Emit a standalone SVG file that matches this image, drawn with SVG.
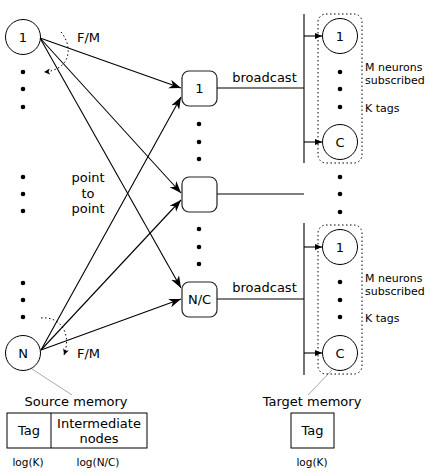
<svg xmlns="http://www.w3.org/2000/svg" width="439" height="474" viewBox="0 0 439 474">
<style>
  text { font-family: "DejaVu Sans", "Liberation Sans", sans-serif; fill: #000; }
  .lbl { font-size: 13px; text-anchor: middle; }
  .sm { font-size: 11px; }
  .lg { font-size: 10.5px; text-anchor: middle; }
  .node { fill: #fff; stroke: #000; stroke-width: 1; }
  .box { fill: #fff; stroke: #222; stroke-width: 1.2; }
  .edge { stroke: #000; stroke-width: 1.1; fill: none; }
  .dotarc { stroke: #000; stroke-width: 1; fill: none; stroke-dasharray: 1.5 2.5; }
  .group { stroke: #000; stroke-width: 1; fill: none; stroke-dasharray: 1.5 2.5; }
  .lead { stroke: #aaa; stroke-width: 1; fill: none; }
  .dot { fill: #000; }
</style>
<defs>
  <marker id="stealth" markerUnits="userSpaceOnUse" markerWidth="14" markerHeight="10" refX="12" refY="4.5" orient="auto">
    <path d="M0,0 L12,4.5 L0,9 L3.5,4.5 Z" fill="#000"/>
  </marker>
  <marker id="tri" markerUnits="userSpaceOnUse" markerWidth="8" markerHeight="7" refX="7" refY="3" orient="auto">
    <path d="M0,0 L7,3 L0,6 Z" fill="#000"/>
  </marker>
  <marker id="small" markerUnits="userSpaceOnUse" markerWidth="8" markerHeight="7" refX="6" refY="3" orient="auto">
    <path d="M0,0 L6,3 L0,6 L1.5,3 Z" fill="#000"/>
  </marker>
</defs>

<g id="connectors">
  <!-- from source 1 -->
  <line class="edge" x1="40" y1="38" x2="181" y2="88" marker-end="url(#stealth)"/>
  <line class="edge" x1="40" y1="38" x2="181" y2="193" marker-end="url(#stealth)"/>
  <line class="edge" x1="40" y1="38" x2="181" y2="288" marker-end="url(#stealth)"/>
  <!-- from source N -->
  <line class="edge" x1="41" y1="350" x2="181" y2="97" marker-end="url(#stealth)"/>
  <line class="edge" x1="41" y1="350" x2="181" y2="200" marker-end="url(#stealth)"/>
  <line class="edge" x1="41" y1="350" x2="181" y2="299" marker-end="url(#stealth)"/>
  <!-- F/M dotted arcs -->
  <path class="dotarc" d="M61,32 C74,48 70,70 44,72" marker-end="url(#small)"/>
  <path class="dotarc" d="M41,318 C60,316 72,333 64,355" marker-end="url(#small)"/>
  <!-- broadcast buses -->
  <line class="edge" x1="217" y1="88" x2="304" y2="88"/>
  <line class="edge" x1="304" y1="14" x2="304" y2="163"/>
  <line class="edge" x1="304" y1="36" x2="322" y2="36" marker-end="url(#tri)"/>
  <line class="edge" x1="304" y1="142" x2="322" y2="142" marker-end="url(#tri)"/>
  <line class="edge" x1="217" y1="194" x2="304" y2="194"/>
  <line class="edge" x1="217" y1="299" x2="304" y2="299"/>
  <line class="edge" x1="304" y1="223" x2="304" y2="375"/>
  <line class="edge" x1="304" y1="247" x2="322" y2="247" marker-end="url(#tri)"/>
  <line class="edge" x1="304" y1="353" x2="322" y2="353" marker-end="url(#tri)"/>
  <!-- memory leader lines -->
  <line class="lead" x1="32" y1="369" x2="72" y2="395"/>
  <line class="lead" x1="332" y1="370" x2="308" y2="395"/>
</g>

<g id="source-1">
  <circle class="node" cx="23" cy="37" r="17.5"/>
  <text class="lbl" x="23" y="42">1</text>
</g>
<g id="source-dots">
  <circle class="dot" cx="23" cy="72" r="2.3"/>
  <circle class="dot" cx="23" cy="89" r="2.3"/>
  <circle class="dot" cx="23" cy="107" r="2.3"/>
  <circle class="dot" cx="23" cy="177" r="2.3"/>
  <circle class="dot" cx="23" cy="194" r="2.3"/>
  <circle class="dot" cx="23" cy="211" r="2.3"/>
  <circle class="dot" cx="23" cy="283" r="2.3"/>
  <circle class="dot" cx="23" cy="300" r="2.3"/>
  <circle class="dot" cx="23" cy="317" r="2.3"/>
</g>
<g id="source-N">
  <circle class="node" cx="23" cy="353" r="17.5"/>
  <text class="lbl" x="23" y="358">N</text>
</g>
<g id="fm-labels">
  <text x="77" y="42" style="font-size:13px">F/M</text>
  <text x="77" y="358" style="font-size:13px">F/M</text>
</g>
<g id="p2p-label">
  <text class="lbl" x="88" y="182">point</text>
  <text class="lbl" x="88" y="198">to</text>
  <text class="lbl" x="88" y="213">point</text>
</g>

<g id="inter-1">
  <rect class="box" x="182" y="71" width="35" height="35" rx="7"/>
  <text class="lbl" x="199.5" y="93">1</text>
</g>
<g id="inter-mid">
  <rect class="box" x="182" y="177" width="35" height="35" rx="7"/>
</g>
<g id="inter-NC">
  <rect class="box" x="182" y="282" width="35" height="35" rx="7"/>
  <text class="lbl" x="199.5" y="304">N/C</text>
</g>
<g id="inter-dots">
  <circle class="dot" cx="199" cy="124" r="2.3"/>
  <circle class="dot" cx="199" cy="142" r="2.3"/>
  <circle class="dot" cx="199" cy="159" r="2.3"/>
  <circle class="dot" cx="199" cy="229" r="2.3"/>
  <circle class="dot" cx="199" cy="247" r="2.3"/>
  <circle class="dot" cx="199" cy="264" r="2.3"/>
</g>
<g id="broadcast-labels">
  <text class="lbl" x="264.5" y="82">broadcast</text>
  <text class="lbl" x="264.5" y="292">broadcast</text>
</g>

<g id="target-group-top">
  <rect class="group" x="318" y="14" width="44" height="149" rx="8"/>
  <circle class="node" cx="340" cy="36" r="17.5"/>
  <text class="lbl" x="340" y="41">1</text>
  <circle class="dot" cx="340" cy="72" r="2.3"/>
  <circle class="dot" cx="340" cy="89" r="2.3"/>
  <circle class="dot" cx="340" cy="107" r="2.3"/>
  <circle class="node" cx="340" cy="142" r="17.5"/>
  <text class="lbl" x="340" y="147">C</text>
  <text class="sm" x="365" y="71">M neurons</text>
  <text class="sm" x="365" y="84">subscribed</text>
  <text class="sm" x="365" y="112">K tags</text>
</g>
<g id="target-dots">
  <circle class="dot" cx="340" cy="177" r="2.3"/>
  <circle class="dot" cx="340" cy="194" r="2.3"/>
  <circle class="dot" cx="340" cy="212" r="2.3"/>
</g>
<g id="target-group-bottom">
  <rect class="group" x="318" y="225" width="44" height="149" rx="8"/>
  <circle class="node" cx="340" cy="247" r="17.5"/>
  <text class="lbl" x="340" y="252">1</text>
  <circle class="dot" cx="340" cy="282" r="2.3"/>
  <circle class="dot" cx="340" cy="300" r="2.3"/>
  <circle class="dot" cx="340" cy="317" r="2.3"/>
  <circle class="node" cx="340" cy="353" r="17.5"/>
  <text class="lbl" x="340" y="358">C</text>
  <text class="sm" x="365" y="282">M neurons</text>
  <text class="sm" x="365" y="295">subscribed</text>
  <text class="sm" x="365" y="322">K tags</text>
</g>

<g id="source-memory">
  <text class="lbl" x="76" y="406">Source memory</text>
  <rect x="7" y="413" width="140" height="35" fill="#fff" stroke="#000" stroke-width="1"/>
  <line x1="51" y1="413" x2="51" y2="448" stroke="#000" stroke-width="1"/>
  <text class="lbl" x="29" y="435">Tag</text>
  <text class="lbl" x="99" y="428">Intermediate</text>
  <text class="lbl" x="99" y="443">nodes</text>
  <text class="lg" x="28" y="466">log(K)</text>
  <text class="lg" x="98" y="466">log(N/C)</text>
</g>
<g id="target-memory">
  <text class="lbl" x="312" y="406">Target memory</text>
  <rect x="291" y="413" width="43" height="35" fill="#fff" stroke="#000" stroke-width="1"/>
  <text class="lbl" x="312.5" y="435">Tag</text>
  <text class="lg" x="312" y="466">log(K)</text>
</g>
</svg>
